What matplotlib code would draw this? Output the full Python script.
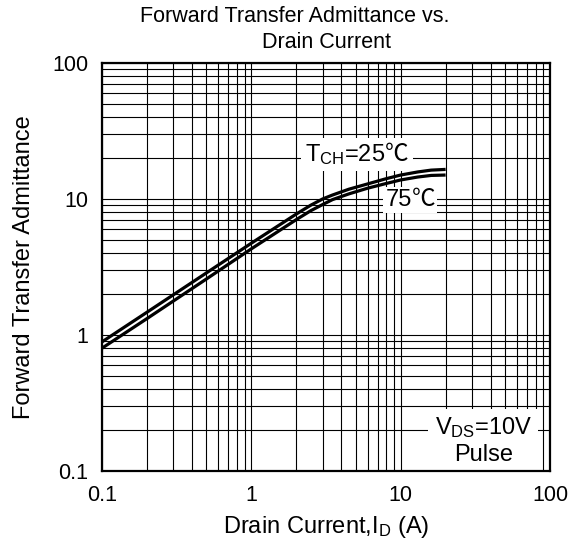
import matplotlib
matplotlib.use("Agg")
import matplotlib.pyplot as plt
from matplotlib.offsetbox import TextArea, HPacker, VPacker, AnnotationBbox

# fonts: Arial-like text, CJK font only as fallback for the degree sign
plt.rcParams['font.family'] = ['Liberation Sans', 'Noto Sans CJK SC', 'DejaVu Sans']
plt.rcParams['mathtext.fontset'] = 'custom'
plt.rcParams['mathtext.rm'] = 'Liberation Sans'
plt.rcParams['mathtext.default'] = 'regular'

# data
drain_current = [0.1, 0.2, 0.5, 1, 2, 2.5, 3, 3.5, 4.5, 6, 8, 10, 13, 16, 20]
yfs_25c = [0.89, 1.47, 2.86, 4.73, 7.75, 9.0, 10.0, 10.7, 11.8, 12.9, 14.1, 15.0, 15.8, 16.3, 16.5]
yfs_75c = [0.80, 1.32, 2.58, 4.3, 7.05, 8.2, 9.1, 9.9, 10.9, 12.0, 13.0, 13.8, 14.5, 14.9, 15.0]

x_ticks = [0.1, 1, 10, 100]
x_tick_labels = ["0.1", "1", "10", "100"]
y_ticks = [0.1, 1, 10, 100]
y_tick_labels = ["0.1", "1", "10", "100"]

fs = 15.5      # ticks and title
lab_fs = 17    # axis labels and curve notes

fig = plt.figure(figsize=(5.81, 5.51), dpi=100)
ax = fig.add_axes([0.1756, 0.1452, 0.7710, 0.7405])

ax.plot(drain_current, yfs_25c, color='black', lw=2.3, solid_capstyle='butt', zorder=3)
ax.plot(drain_current, yfs_75c, color='black', lw=2.3, solid_capstyle='butt', zorder=3)

ax.set_xscale('log')
ax.set_yscale('log')
ax.set_xlim(0.1, 100)
ax.set_ylim(0.1, 100)

ax.set_xticks(x_ticks)
ax.set_xticklabels(x_tick_labels)
ax.set_yticks(y_ticks)
ax.set_yticklabels(y_tick_labels)
ax.tick_params(which='both', length=0, labelsize=fs)
ax.tick_params(axis='x', pad=10)
ax.tick_params(axis='y', pad=10)

# grid on every decade subdivision
ax.grid(which='both', color='black', lw=0.8)
ax.set_axisbelow(True)
for sp in ax.spines.values():
    sp.set_linewidth(1.6)
    sp.set_zorder(5)

# title: two separate lines, first one sits a bit left
fig.text(295 / 581, 1 - 16 / 551, "Forward Transfer Admittance vs.", fontsize=fs,
         ha='center', va='center')
fig.text(327 / 581, 1 - 42 / 551, "Drain Current", fontsize=fs,
         ha='center', va='center')
ax.set_xlabel(r"Drain Current,I$_{\rm D}$ (A)", fontsize=lab_fs, labelpad=6)
ax.set_ylabel("Forward Transfer Admittance", fontsize=lab_fs, labelpad=12)

# curve labels with white boxes
def label_box(pieces, xy, coords, pad):
    box = HPacker(children=pieces, align="baseline", pad=0, sep=0)
    ab = AnnotationBbox(box, xy, xycoords=coords, frameon=True, pad=pad,
                        bboxprops=dict(fc='white', ec='none'), zorder=2)
    ax.add_artist(ab)

label_box([TextArea(r"T$_{\rm CH}$=25", textprops=dict(fontsize=lab_fs)),
           TextArea("\u2103", textprops=dict(fontsize=lab_fs))],
          (5.1, 21.1), 'data', 0.3)
label_box([TextArea("75", textprops=dict(fontsize=lab_fs)),
           TextArea("\u2103", textprops=dict(fontsize=lab_fs))],
          (11.6, 9.8), 'data', 0.15)

cond = VPacker(children=[
    HPacker(children=[TextArea(r"V$_{\rm DS}$=10V", textprops=dict(fontsize=lab_fs))],
            align="baseline", pad=0, sep=0),
    HPacker(children=[TextArea("Pulse", textprops=dict(fontsize=lab_fs))],
            align="baseline", pad=0, sep=0)],
    align="center", pad=0, sep=3)
ab = AnnotationBbox(cond, (0.851, 0.075), xycoords='axes fraction', frameon=True,
                    pad=0.45, bboxprops=dict(fc='white', ec='none'), zorder=2)
ax.add_artist(ab)

plt.savefig("out.png", dpi=100)
